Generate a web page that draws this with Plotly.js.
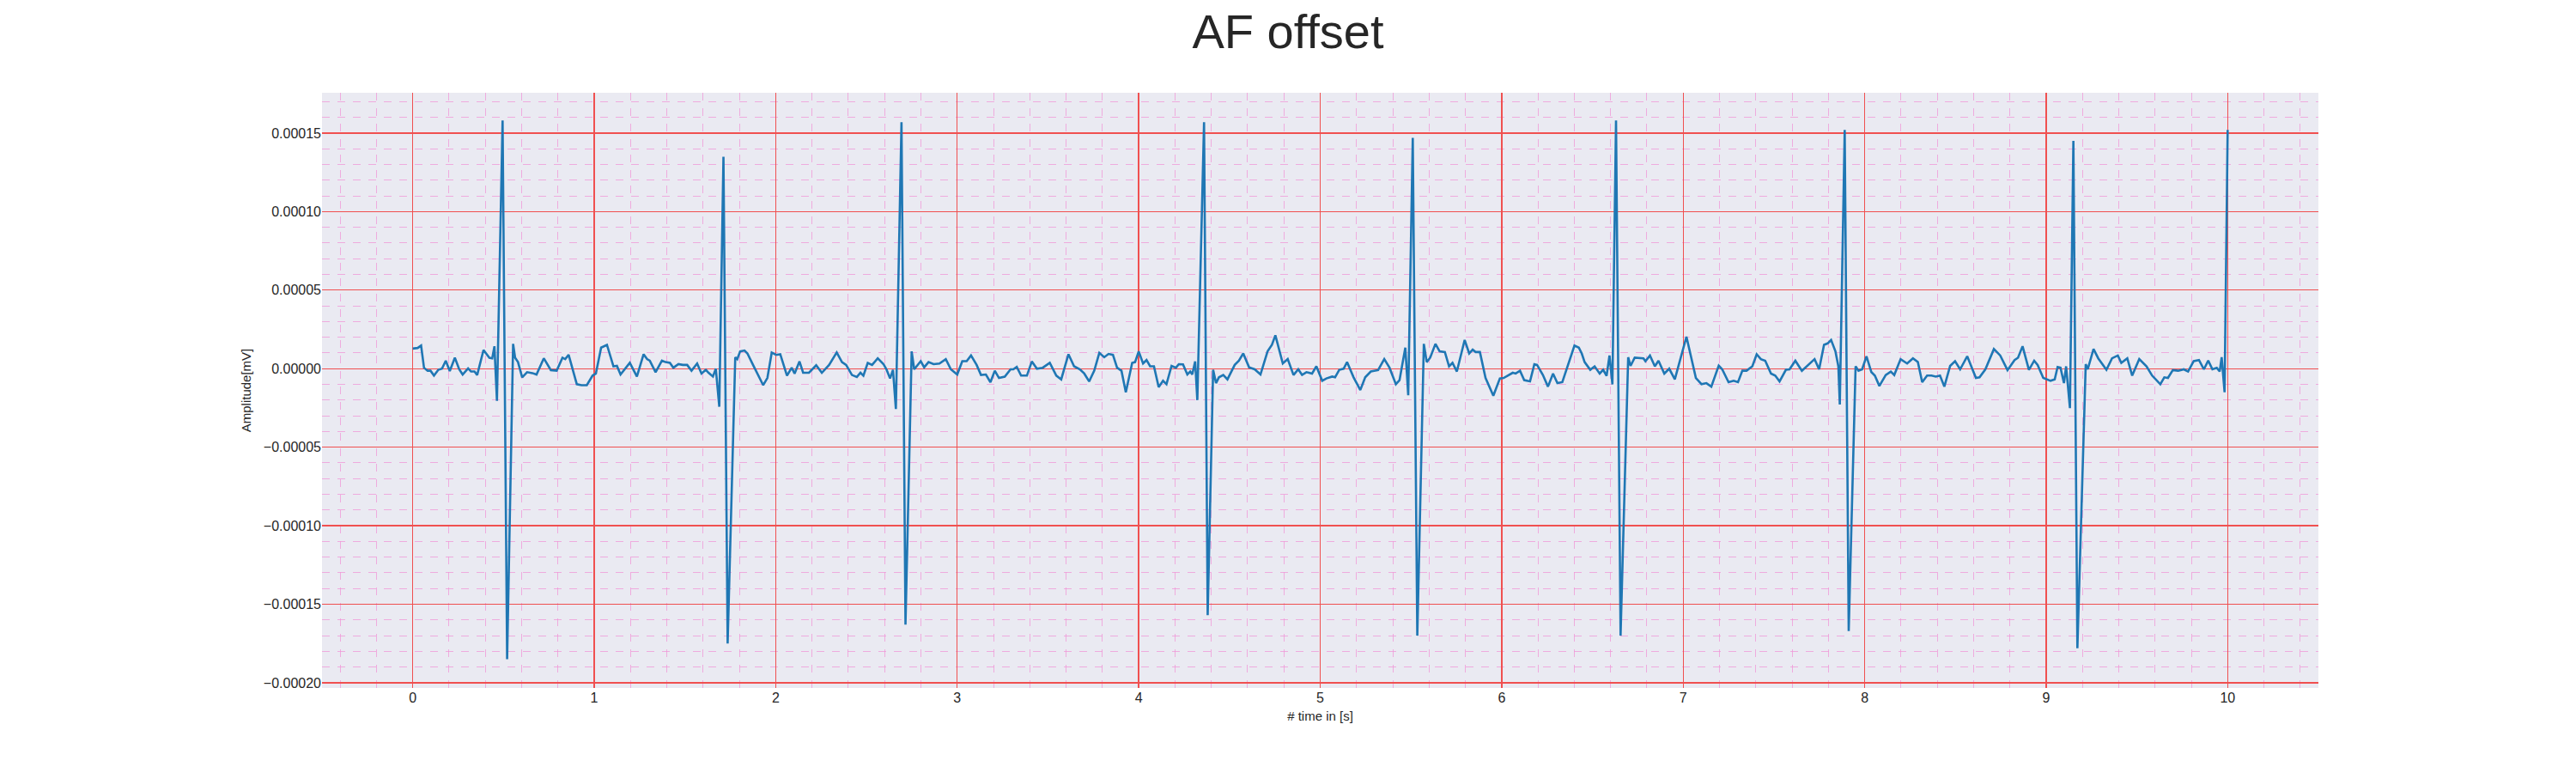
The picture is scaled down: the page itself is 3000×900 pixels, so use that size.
<!DOCTYPE html>
<html>
<head>
<meta charset="utf-8">
<script src="https://cdn.plot.ly/plotly-3.0.1.min.js"></script>
<style>body{margin:0;background:#fff}</style>
</head>
<body>
<div id="chart" style="width:3000px;height:900px"></div>
<script>
// time in seconds
const time_s = [
0.000,0.027,0.046,0.062,0.082,0.098,0.117,0.141,0.161,0.182,0.204,0.232,0.256,0.275,0.305,0.321,0.340,0.355,0.390,0.422,0.438,0.450,
0.464,0.495,0.520,
0.553,0.564,0.580,0.603,0.630,0.659,0.682,0.722,0.761,0.793,0.825,0.840,0.859,0.904,0.930,0.959,0.991,1.009,1.038,1.070,1.106,1.125,1.145,1.196,1.235,1.272,1.291,1.306,1.338,1.373,1.393,1.417,1.436,1.464,1.488,1.512,1.536,1.567,1.591,1.615,1.630,1.654,1.670,
1.689,1.712,1.735,
1.777,1.788,1.804,1.828,1.844,1.875,1.931,1.954,1.978,2.002,2.025,2.062,2.088,2.104,2.131,2.151,2.183,2.223,2.254,2.294,2.336,2.365,2.388,2.420,2.447,2.467,2.483,2.507,2.531,2.562,2.594,2.610,2.630,2.646,
2.662,2.693,2.715,
2.749,2.763,2.799,2.818,2.842,2.870,2.902,2.937,2.965,3.000,3.028,3.052,3.076,3.107,3.131,3.158,3.183,3.207,3.230,3.262,3.294,3.309,3.328,3.352,3.384,3.411,3.439,3.471,3.510,3.546,3.573,3.613,3.644,3.676,3.700,3.727,3.755,3.783,3.810,3.834,3.858,3.881,3.905,3.929,3.964,3.980,4.000,4.024,4.043,4.063,4.084,4.110,4.134,4.153,4.181,4.205,4.221,4.244,4.268,4.284,4.295,4.311,
4.323,4.360,4.380,
4.410,4.426,4.442,4.466,4.489,4.529,4.552,4.576,4.608,4.639,4.671,4.710,4.734,4.753,4.794,4.821,4.853,4.879,4.900,4.924,4.955,4.979,5.011,5.034,5.066,5.082,5.105,5.129,5.148,5.184,5.221,5.248,5.279,5.319,5.353,5.382,5.417,5.437,5.469,
5.485,5.510,5.535,
5.571,5.587,5.606,5.635,5.658,5.687,5.710,5.729,5.753,5.796,5.821,5.840,5.856,5.880,5.911,5.954,5.990,6.011,6.037,6.061,6.077,6.101,6.124,6.156,6.180,6.195,6.227,6.255,6.283,6.307,6.334,6.370,6.401,6.425,6.441,6.457,6.488,6.512,6.540,6.559,6.578,6.594,
6.610,6.630,6.655,
6.697,6.710,6.733,6.757,6.781,6.792,6.817,6.844,6.864,6.896,6.923,6.954,6.986,7.018,7.041,7.070,7.101,7.128,7.155,7.196,7.215,7.250,7.278,7.302,7.326,7.349,7.381,7.405,7.428,7.452,7.484,7.507,7.531,7.566,7.586,7.618,7.654,7.681,7.705,7.724,7.749,7.776,7.796,7.815,7.839,7.855,
7.863,7.890,7.912,
7.950,7.966,7.986,8.010,8.037,8.056,8.081,8.116,8.144,8.163,8.198,8.234,8.266,8.293,8.317,8.344,8.368,8.392,8.415,8.439,8.471,8.498,8.526,8.565,8.589,8.613,8.633,8.665,8.712,8.747,8.787,8.826,8.845,8.870,8.905,8.934,8.953,8.984,9.024,9.047,9.063,9.079,9.098,9.110,
9.131,9.150,9.172,
9.218,9.229,9.261,9.287,9.332,9.363,9.395,9.414,9.447,9.474,9.513,9.553,9.584,9.629,9.651,9.671,9.698,9.727,9.758,9.782,9.813,9.842,9.869,9.893,9.916,9.940,9.956,9.967,
9.983,10.000
];
// amplitude in units of 1e-5 mV
const amp_e5 = [
1.28,1.32,1.47,0.06,-0.13,-0.13,-0.44,-0.07,0,0.51,-0.15,0.70,-0.04,-0.37,0.02,-0.18,-0.18,-0.40,1.19,0.70,0.66,1.43,
-2.05,15.8,-18.5,
1.58,0.70,0.42,-0.55,-0.22,-0.28,-0.37,0.66,-0.09,-0.13,0.70,0.61,0.88,-0.99,-1.05,-1.05,-0.44,-0.31,1.34,1.52,0.15,0.18,-0.37,0.37,-0.50,0.92,0.61,0.51,-0.22,0.51,0.42,0.37,0.06,0.29,0.24,0.24,-0.13,0.33,-0.31,-0.07,-0.26,-0.50,0,
-2.42,13.5,-17.5,
0.73,0.61,1.10,1.16,0.97,0.24,-1.05,-0.59,1.03,0.88,0.92,-0.44,0.06,-0.31,0.46,-0.26,-0.26,0.22,-0.26,0.24,1.03,0.42,0.24,-0.40,-0.53,-0.26,-0.44,0.37,0.24,0.66,0.29,-0.04,-0.62,-0.07,
-2.57,15.7,-16.3,
1.10,-0.04,0.48,0.09,0.42,0.29,0.33,0.61,-0.04,-0.37,0.48,0.48,0.84,0.24,-0.40,-0.37,-0.86,-0.13,-0.59,-0.51,-0.04,-0.04,0.11,-0.44,-0.44,0.46,0,0.06,0.37,-0.44,-0.68,0.92,0.15,-0.04,-0.31,-0.81,-0.13,1.01,0.73,0.94,0.88,0.06,-0.13,-1.50,0.37,0.42,1.10,0.33,0.55,0.15,0.15,-1.17,-0.77,-0.99,0.18,0.06,0.29,0.28,-0.37,-0.18,-0.37,0.46,
-2.0,15.7,-15.7,
-0.07,-0.92,-0.55,-0.40,-0.68,0.24,0.51,0.97,0.09,-0.04,-0.37,1.10,1.52,2.13,0.33,0.61,-0.40,-0.04,-0.40,-0.22,-0.31,0.15,-0.77,-0.62,-0.50,-0.55,-0.07,0,0.42,-0.55,-1.36,-0.55,-0.18,-0.09,0.61,0.06,-0.99,-0.73,1.34,
-1.69,14.7,-17.0,
1.58,0.42,0.70,1.58,1.10,1.06,0.15,0.37,-0.18,1.83,0.97,1.21,1.06,1.06,-0.59,-1.72,-0.62,-0.59,-0.44,-0.26,-0.31,-0.13,-0.73,-0.81,0.28,0.24,-0.40,-1.14,-0.31,-0.92,-0.86,0.42,1.47,1.34,0.97,0.42,-0.07,0.15,-0.31,-0.07,-0.46,0.84,
-1.0,15.8,-17.0,
0.73,0.18,0.70,0.66,0.66,0.48,0.84,0.15,0.51,-0.31,0,-0.68,0.61,2.04,0.88,-0.59,-0.99,-0.92,-1.14,0.20,-0.04,-0.86,-0.77,-0.86,-0.13,-0.13,0.15,0.92,0.61,0.51,-0.31,-0.44,-0.81,-0.07,-0.04,0.51,-0.13,0.15,0.37,0.61,-0.04,1.52,1.61,1.83,1.10,0.15,
-2.28,15.2,-16.7,
0.15,-0.13,-0.04,0.79,-0.22,-0.44,-1.10,-0.40,-0.18,-0.40,0.61,0.33,0.66,0.42,-0.86,-0.44,-0.44,-0.50,-0.44,-1.14,0.18,0.48,-0.04,0.79,0.15,-0.59,-0.55,-0.04,1.25,0.84,-0.09,0.55,0.70,1.43,-0.07,0.51,0.24,-0.59,-0.77,-0.68,0.11,0.06,-0.92,0.15,
-2.51,14.5,-17.8,
0.29,-0.04,1.25,0.66,-0.07,0.66,0.84,0.37,0.66,-0.44,0.61,0.15,-0.44,-0.99,-0.55,-0.59,-0.09,-0.13,-0.04,-0.18,0.48,0.55,-0.04,0.51,-0.04,0.06,-0.18,0.73,
-1.50,15.2
];
const amplitude = amp_e5.map(v => v * 1e-5);

const yTicks = [-0.0002,-0.00015,-0.0001,-0.00005,0,0.00005,0.0001,0.00015];
const yTickText = ['\u22120.00020','\u22120.00015','\u22120.00010','\u22120.00005','0.00000','0.00005','0.00010','0.00015'];

const trace = {
    x: time_s,
    y: amplitude,
    type: 'scatter',
    mode: 'lines',
    line: {color: '#1f77b4', width: 2.6},
    hoverinfo: 'skip'
};

const gridMajor = 'rgb(240,80,80)';
const gridMinor = 'rgba(240,150,215,0.75)';

const layout = {
    width: 3000,
    height: 900,
    paper_bgcolor: '#ffffff',
    plot_bgcolor: '#eaeaf2',
    showlegend: false,
    margin: {l: 375, r: 300, t: 108, b: 99},
    font: {family: 'Liberation Sans, Arial, sans-serif', color: '#262626', size: 15},
    title: {text: 'AF offset', font: {size: 56, color: '#262626'}, x: 0.5, xanchor: 'center', y: 0.96, yanchor: 'middle'},
    xaxis: {
        range: [-0.5, 10.5],
        tickvals: [0,1,2,3,4,5,6,7,8,9,10],
        ticks: '',
        showgrid: true, gridcolor: gridMajor, gridwidth: 1.3,
        zeroline: false, showline: false,
        minor: {dtick: 0.2, tick0: 0, showgrid: true, gridcolor: gridMinor, griddash: 'dash', gridwidth: 1},
        title: {text: '# time in [s]', font: {size: 15}, standoff: 8},
        tickfont: {size: 16}
    },
    yaxis: {
        range: [-0.0002033, 0.0001757],
        tickvals: yTicks,
        ticktext: yTickText,
        ticks: '',
        showgrid: true, gridcolor: gridMajor, gridwidth: 1.3,
        zeroline: false, showline: false,
        minor: {dtick: 0.00001, tick0: 0, showgrid: true, gridcolor: gridMinor, griddash: 'dash', gridwidth: 1},
        title: {text: 'Amplitude[mV]', font: {size: 15}, standoff: 10},
        tickfont: {size: 16}
    }
};

Plotly.newPlot('chart', [trace], layout, {staticPlot: true});
</script>
</body>
</html>
